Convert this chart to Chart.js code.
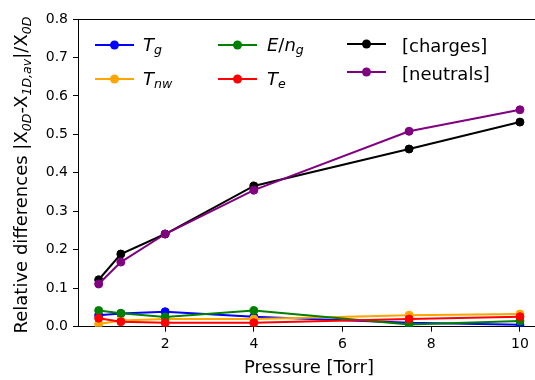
<!DOCTYPE html>
<html>
<head>
<meta charset="utf-8">
<script src="https://cdn.jsdelivr.net/npm/chart.js@4/dist/chart.umd.min.js"></script>
<style>
html,body{margin:0;padding:0;background:#fff;overflow:hidden;width:535px;height:380px;}
#wrap{width:535px;height:380px;position:relative;overflow:hidden;}
#c{position:absolute;left:0;top:0;}
</style>
</head>
<body>
<div id="wrap"><canvas id="c" width="541" height="380" style="width:541px;height:380px"></canvas></div>
<script>
// ---- data ----
const pressure = [0.5, 1, 2, 4, 7.5, 10];
const Tg       = [0.030, 0.034, 0.039, 0.026, 0.010, 0.005];
const Tnw      = [0.007, 0.016, 0.020, 0.020, 0.030, 0.033];
const EoverNg  = [0.042, 0.035, 0.025, 0.042, 0.006, 0.015];
const Te       = [0.022, 0.013, 0.010, 0.010, 0.020, 0.026];
const charges  = [0.122, 0.189, 0.241, 0.366, 0.462, 0.532];
const neutrals = [0.111, 0.168, 0.241, 0.355, 0.508, 0.564];
const xTicks = [2, 4, 6, 8, 10];
const yTicks = [0, 0.1, 0.2, 0.3, 0.4, 0.5, 0.6, 0.7, 0.8];
const xMin = 0.034, xMax = 10.362;

const seriesNames = ['Tg', 'Tnw', 'E/ng', 'Te', '[charges]', '[neutrals]'];
const seriesData = [Tg, Tnw, EoverNg, Te, charges, neutrals];
const seriesColors = ['#0000ff', '#ffa500', '#008000', '#ff0000', '#000000', '#800080'];

const FONT = "'DejaVu Sans', sans-serif";

const datasets = seriesData.map((arr, i) => ({
  label: seriesNames[i],
  data: pressure.map((p, j) => ({x: p, y: arr[j]})),
  borderColor: seriesColors[i],
  backgroundColor: seriesColors[i],
  pointBackgroundColor: seriesColors[i],
  pointBorderColor: seriesColors[i],
  pointRadius: 4,
  pointBorderWidth: 1,
  borderWidth: 2,
  tension: 0,
  fill: false,
  order: seriesData.length - 1 - i
}));

function drawRich(ctx, x, y, parts, size) {
  let cx = x;
  parts.forEach(p => {
    const s = p.sub ? size * 0.7 : size;
    ctx.font = (p.it ? 'italic ' : '') + s + 'px ' + FONT;
    ctx.fillText(p.t, cx, y + (p.sub ? size * 0.2 : 0));
    cx += ctx.measureText(p.t).width;
  });
  return cx - x;
}
function measureRich(ctx, parts, size) {
  let w = 0;
  parts.forEach(p => {
    const s = p.sub ? size * 0.7 : size;
    ctx.font = (p.it ? 'italic ' : '') + s + 'px ' + FONT;
    w += ctx.measureText(p.t).width;
  });
  return w;
}

const legendItems = [
  {i:0, lx:95,  ly:45,  tx:143, parts:[{t:'T',it:true},{t:'g',it:true,sub:true}]},
  {i:1, lx:95,  ly:79,  tx:143, parts:[{t:'T',it:true},{t:'nw',it:true,sub:true}]},
  {i:2, lx:218, ly:45,  tx:267, parts:[{t:'E',it:true},{t:'/'},{t:'n',it:true},{t:'g',it:true,sub:true}]},
  {i:3, lx:218, ly:79,  tx:267, parts:[{t:'T',it:true},{t:'e',it:true,sub:true}]},
  {i:4, lx:347, ly:44,  tx:402, plain:'[charges]'},
  {i:5, lx:347, ly:72,  tx:402, plain:'[neutrals]'}
];

const decorPlugin = {
  id: 'decor',
  afterDraw(chart) {
    const ctx = chart.ctx;
    const a = chart.chartArea;
    ctx.save();
    ctx.strokeStyle = '#000';
    ctx.lineWidth = 1;
    ctx.beginPath();
    ctx.moveTo(a.left, a.top + 0.5);
    ctx.lineTo(chart.width, a.top + 0.5);
    ctx.stroke();

    legendItems.forEach(it => {
      const col = seriesColors[it.i];
      ctx.strokeStyle = col;
      ctx.lineWidth = 2;
      ctx.beginPath();
      ctx.moveTo(it.lx, it.ly);
      ctx.lineTo(it.lx + 39, it.ly);
      ctx.stroke();
      ctx.fillStyle = col;
      ctx.beginPath();
      ctx.arc(it.lx + 19.5, it.ly, 4.5, 0, Math.PI * 2);
      ctx.fill();
      ctx.fillStyle = '#000';
      ctx.textAlign = 'left';
      ctx.textBaseline = 'alphabetic';
      if (it.plain) {
        ctx.font = '18px ' + FONT;
        ctx.fillText(it.plain, it.tx, it.ly + 7.5);
      } else {
        drawRich(ctx, it.tx, it.ly + 5.8, it.parts, 18);
      }
    });

    ctx.fillStyle = '#000';
    ctx.font = '18px ' + FONT;
    ctx.textAlign = 'center';
    ctx.textBaseline = 'alphabetic';
    ctx.fillText('Pressure [Torr]', 309, 373);

    const yparts = [
      {t:'Relative differences |X'},
      {t:'0D',it:true,sub:true},
      {t:'-X'},
      {t:'1D,av',it:true,sub:true},
      {t:'|/X'},
      {t:'0D',it:true,sub:true}
    ];
    const w = measureRich(ctx, yparts, 18);
    ctx.textAlign = 'left';
    ctx.translate(27, 175 + w / 2);
    ctx.rotate(-Math.PI / 2);
    drawRich(ctx, 0, 0, yparts, 18);
    ctx.restore();
  }
};

new Chart(document.getElementById('c'), {
  type: 'line',
  data: { datasets },
  options: {
    responsive: false,
    animation: false,
    devicePixelRatio: 1,
    layout: { padding: { left: 0, right: 1, top: 19, bottom: 0 } },
    plugins: { legend: { display: false }, tooltip: { enabled: false }, title: { display: false } },
    scales: {
      x: {
        type: 'linear',
        min: xMin,
        max: xMax,
        afterBuildTicks: s => { s.ticks = xTicks.map(v => ({value: v})); },
        afterFit: s => { s.height = 53.3; s.paddingLeft = 0; s.paddingRight = 0; },
        ticks: {
          callback: v => String(v),
          font: { family: FONT, size: 14 },
          color: '#000',
          padding: 4,
          maxRotation: 0
        },
        grid: { drawOnChartArea: false, drawTicks: true, tickLength: 5, color: '#000', lineWidth: 1 },
        border: { display: true, color: '#000', width: 1 }
      },
      y: {
        type: 'linear',
        min: 0,
        max: 0.8,
        afterBuildTicks: s => { s.ticks = yTicks.map(v => ({value: v})); },
        afterFit: s => { s.width = 78; s.paddingTop = 0; s.paddingBottom = 0; },
        ticks: {
          callback: v => Number(v).toFixed(1),
          font: { family: FONT, size: 14 },
          color: '#000',
          padding: 5
        },
        grid: { drawOnChartArea: false, drawTicks: true, tickLength: 5, color: '#000', lineWidth: 1 },
        border: { display: true, color: '#000', width: 1 }
      }
    }
  },
  plugins: [decorPlugin]
});
</script>
</body>
</html>
